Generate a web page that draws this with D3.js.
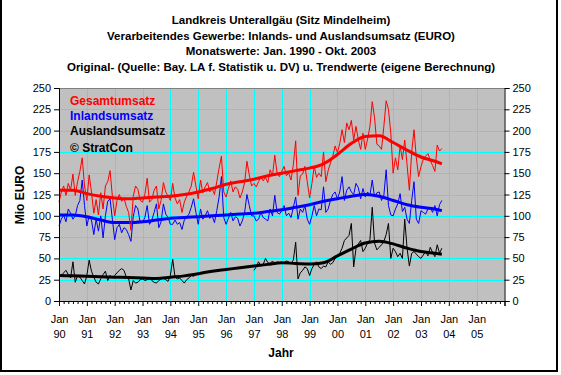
<!DOCTYPE html>
<html>
<head>
<meta charset="utf-8">
<script src="https://cdn.jsdelivr.net/npm/d3@7"></script>
<style>
  body { margin: 0; background: #fff; }
  svg text { font-family: "Liberation Sans", Arial, sans-serif; }
</style>
</head>
<body>
<div id="chart"></div>
<script>
// Monatswerte Jan. 1990 - Okt. 2003 (Mio EURO)
var gesamt = [
  116,128,135,124,138,130,149,124,140,152,168,135, // 1990
  118,148,128,103,119,101,127,108,135,140,153,123, // 1991
  100,118,125,117,121,111,104,83,123,135,131,118,  // 1992
  116,125,144,116,119,130,135,108,118,139,128,123, // 1993
  118,138,121,114,119,104,116,123,128,135,151,135, // 1994
  120,142,127,134,139,128,132,125,140,156,170,128, // 1995
  122,132,141,128,134,131,121,128,139,164,148,135, // 1996
  138,134,140,146,141,145,139,154,147,171,150,146, // 1997
  152,158,147,150,142,160,188,124,147,149,158,140, // 1998
  121,138,158,145,150,146,175,140,153,162,170,182, // 1999
  174,185,201,186,209,201,212,189,205,189,178,197, // 2000
  178,190,205,234,215,184,182,178,205,235,225,197, // 2001
  150,168,154,182,166,189,160,130,175,201,168,146, // 2002
  158,166,170,173,165,159,152,183,176,179          // 2003
];
var inland = [
  88,96,101,93,108,103,96,100,112,118,142,112,
  88,100,95,78,96,82,100,74,100,117,120,96,
  72,86,90,80,86,84,78,70,99,112,108,92,
  92,98,112,90,95,104,114,86,93,114,102,98,
  90,90,95,90,92,84,95,98,102,110,120,104,
  90,108,96,100,106,97,100,92,106,122,146,98,
  90,97,104,94,99,97,88,94,104,125,112,100,
  100,94,96,104,98,96,94,108,100,124,104,102,
  106,112,100,103,98,110,122,96,108,104,112,96,
  90,100,112,100,108,107,134,104,108,118,125,128,
  120,128,146,118,130,134,128,125,138,133,120,132,
  122,128,124,142,122,127,128,118,124,154,112,101,
  100,108,114,126,105,110,96,91,118,140,96,91,
  106,104,102,108,110,104,112,100,113,118
];
// 1995/1996 keine Auslandswerte
var ausland = [
  29,30,33,36,31,27,46,22,30,28,24,20,
  30,48,35,28,22,20,26,31,35,24,30,27,
  30,33,36,38,36,28,26,13,24,21,22,25,
  26,24,25,27,24,22,21,24,26,27,25,23,
  30,49,28,26,27,24,21,25,27,30,29,31,
  null,null,null,null,null,null,null,null,null,null,null,null,
  null,null,null,null,null,null,null,null,null,null,null,null,
  36,40,46,41,43,50,45,44,47,43,46,44,
  44,45,47,46,44,48,69,26,33,36,40,38,
  30,38,43,46,40,38,41,40,46,43,45,50,
  52,56,62,71,74,77,91,40,62,67,71,58,
  62,68,72,110,68,60,63,66,70,78,91,50,
  62,58,52,56,50,96,62,41,56,58,55,52,
  50,54,58,53,63,57,52,66,56,62
];

// Trendwerte (eigene Berechnung)
var trendYears = [1990,1990.5,1991,1991.5,1992,1992.5,1993,1993.5,1994,1994.5,1995,1995.5,1996,1996.5,1997,1997.5,1998,1998.5,1999,1999.5,2000,2000.5,2001,2001.5,2002,2002.5,2003,2003.5,2003.75];
var gesamtTrend  = [130,130,126,123,121,120,121,122,123,125,128,132,137,140,143,147,150,153,156,161,172,185,193,194,186,177,169,164,161];
var inlandTrend  = [101,101,99,95,92,92,93,95,97,98,99,100,101,102,103,105,107,110,113,117,120,123,125,123,118,113,110,108,106];
var auslandTrend = [30,29.5,29,28.5,28,27.5,27,26.5,28,29.5,32,35,37,39,41,43,45,44,43.5,45,53,61,68,70,67,62,58,56,55];

var yTicks = [0,25,50,75,100,125,150,175,200,225,250];
var yearTicks = [1990,1991,1992,1993,1994,1995,1996,1997,1998,1999,2000,2001,2002,2003,2004,2005];
var yearLabels = ["90","91","92","93","94","95","96","97","98","99","00","01","02","03","04","05"];

var titleLines = [
  "Landkreis Unterallgäu (Sitz Mindelheim)",
  "Verarbeitendes Gewerbe: Inlands- und Auslandsumsatz (EURO)",
  "Monatswerte: Jan. 1990 - Okt. 2003",
  "Original- (Quelle: Bay. LA f. Statistik u. DV) u. Trendwerte (eigene Berechnung)"
];

function drawChart() {
  var width = 561, height = 375;
  var plotLeft = 59, plotRight = 504.5, plotTop = 88, plotBottom = 301;

  var svg = d3.select("#chart").append("svg")
    .attr("width", width)
    .attr("height", height);

  svg.append("rect").attr("width", width).attr("height", height).attr("fill", "#fff");
  // border left / bottom / right
  svg.append("path")
    .attr("d", "M1,0V371H557V0")
    .attr("fill", "none").attr("stroke", "#000").attr("stroke-width", 2);

  var x = d3.scaleLinear().domain([1990, 2006]).range([plotLeft, plotRight]);
  var y = d3.scaleLinear().domain([0, 250]).range([plotBottom, plotTop]);

  // plot area
  svg.append("rect")
    .attr("x", x(1990)).attr("y", y(250))
    .attr("width", x(2006) - x(1990)).attr("height", y(0) - y(250))
    .attr("fill", "#c0c0c0");

  // grid
  svg.append("g").selectAll("line").data(yTicks.slice(1, -1)).join("line")
    .attr("x1", x(1990)).attr("x2", x(2006))
    .attr("y1", d => Math.round(y(d)) + 0.5).attr("y2", d => Math.round(y(d)) + 0.5)
    .attr("stroke", "#00ffff");
  svg.append("g").selectAll("line").data(yearTicks.slice(1)).join("line")
    .attr("x1", d => Math.round(x(d)) + 0.5).attr("x2", d => Math.round(x(d)) + 0.5)
    .attr("y1", y(250)).attr("y2", y(0))
    .attr("stroke", "#00ffff");

  svg.append("line")
    .attr("x1", x(1990)).attr("x2", x(2006))
    .attr("y1", y(250) + 0.5).attr("y2", y(250) + 0.5)
    .attr("stroke", "#808080");

  // series
  var rawLine = d3.line()
    .defined(d => d != null)
    .x((d, i) => x(1990 + i / 12))
    .y(d => y(d));
  var trendLine = d3.line()
    .x((d, i) => x(trendYears[i]))
    .y(d => y(d))
    .curve(d3.curveMonotoneX);

  var series = [
    { raw: inland, trend: inlandTrend, color: "#0000ff" },
    { raw: ausland, trend: auslandTrend, color: "#000000" },
    { raw: gesamt, trend: gesamtTrend, color: "#ff0000" }
  ];
  series.forEach(function (s) {
    svg.append("path").datum(s.raw)
      .attr("d", rawLine)
      .attr("fill", "none").attr("stroke", s.color).attr("stroke-width", 1);
    svg.append("path").datum(s.trend)
      .attr("d", trendLine)
      .attr("fill", "none").attr("stroke", s.color).attr("stroke-width", 3);
  });

  // axes
  svg.append("g")
    .attr("transform", "translate(" + x(1990) + ",0)")
    .call(d3.axisLeft(y).tickValues(yTicks).tickSize(5).tickPadding(3));
  svg.append("g")
    .attr("transform", "translate(" + x(2006) + ",0)")
    .call(d3.axisRight(y).tickValues(yTicks).tickSize(5).tickPadding(3));

  var minorTicks = d3.range(0, 16 * 6).filter(i => i % 6 != 0).map(i => 1990 + i / 6);
  svg.append("g")
    .attr("transform", "translate(0," + y(0) + ")")
    .call(d3.axisBottom(x).tickValues(minorTicks).tickSize(3).tickFormat(""))
    .call(g => g.select(".domain").remove());

  var xAxis = svg.append("g")
    .attr("transform", "translate(0," + y(0) + ")")
    .call(d3.axisBottom(x).tickValues(yearTicks.concat([2006])).tickSize(5).tickPadding(9)
      .tickFormat(d => d));
  xAxis.selectAll(".tick text").each(function (d) {
    var t = d3.select(this);
    t.text(null);
    var i = yearTicks.indexOf(d);
    if (i < 0) return;
    t.attr("dy", null);
    t.append("tspan").attr("x", 0).attr("dy", "0.71em").text("Jan");
    t.append("tspan").attr("x", 0).attr("dy", "1.36em").text(yearLabels[i]);
  });

  svg.selectAll(".tick text").attr("font-size", 11).attr("fill", "#000");
  svg.selectAll(".domain, .tick line").attr("stroke", "#000");

  // titles
  svg.append("g").selectAll("text").data(titleLines).join("text")
    .attr("x", 281).attr("y", (d, i) => 24 + i * 15.5)
    .attr("text-anchor", "middle")
    .attr("font-size", 11.5).attr("font-weight", "bold")
    .text(d => d);

  svg.append("text")
    .attr("transform", "translate(24,195) rotate(-90)")
    .attr("text-anchor", "middle")
    .attr("font-size", 12).attr("font-weight", "bold")
    .text("Mio EURO");
  svg.append("text")
    .attr("x", 281).attr("y", 357)
    .attr("text-anchor", "middle")
    .attr("font-size", 12).attr("font-weight", "bold")
    .text("Jahr");

  // legend
  var legendNames = ["Gesamtumsatz", "Inlandsumsatz", "Auslandsumsatz", "© StratCon"];
  var legendColors = ["#ff0000", "#0000ff", "#000000", "#000000"];
  svg.append("g").selectAll("text").data(legendNames).join("text")
    .attr("x", 70).attr("y", (d, i) => [105, 120, 135, 152][i])
    .attr("font-size", 12).attr("font-weight", "bold")
    .attr("fill", (d, i) => legendColors[i])
    .text(d => d);
}

drawChart();
</script>
</body>
</html>
